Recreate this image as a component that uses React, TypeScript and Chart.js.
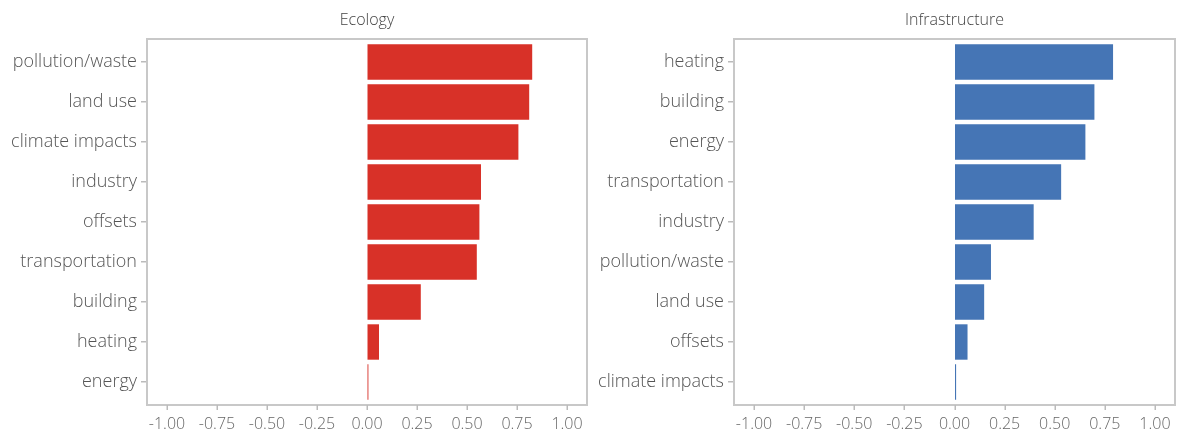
import React, { useEffect, useRef } from "react";
import { Chart, registerables } from "chart.js";

Chart.register(...registerables);

const ecologyCategories = [
  "pollution/waste",
  "land use",
  "climate impacts",
  "industry",
  "offsets",
  "transportation",
  "building",
  "heating",
  "energy",
];
const ecologyValues = [0.826, 0.811, 0.757, 0.57, 0.562, 0.549, 0.269, 0.06, 0.007];

const infraCategories = [
  "heating",
  "building",
  "energy",
  "transportation",
  "industry",
  "pollution/waste",
  "land use",
  "offsets",
  "climate impacts",
];
const infraValues = [0.791, 0.698, 0.653, 0.532, 0.395, 0.182, 0.148, 0.065, 0.008];

const xTickValues = [-1, -0.75, -0.5, -0.25, 0, 0.25, 0.5, 0.75, 1];

const FONT = "'Open Sans', Lato, sans-serif";
const INSET = 3;

type PanelProps = {
  title: string;
  categories: string[];
  values: number[];
  color: string;
  yWidth: number;
  padRight: number;
};

const frameTitlePlugin = {
  id: "frameTitle",
  afterDraw(chart: any, _args: any, opts: any) {
    const { ctx, chartArea } = chart;
    const xScale = chart.scales.x;
    ctx.save();
    ctx.strokeStyle = "#c8c8c8";
    ctx.lineWidth = 2;
    const top = chartArea.top - INSET;
    const bottom = chartArea.bottom + INSET;
    ctx.strokeRect(chartArea.left, top, chartArea.right - chartArea.left, bottom - top);
    ctx.strokeStyle = "#bbb";
    ctx.lineWidth = 1.5;
    ctx.beginPath();
    for (const v of xTickValues) {
      const x = Math.round(xScale.getPixelForValue(v)) + 0.25;
      ctx.moveTo(x, bottom);
      ctx.lineTo(x, bottom + 5);
    }
    ctx.stroke();
    ctx.fillStyle = "#444";
    ctx.font = `300 16px ${FONT}`;
    ctx.textAlign = "center";
    ctx.textBaseline = "middle";
    ctx.fillText(opts.text, (chartArea.left + chartArea.right) / 2, 20);
    ctx.restore();
  },
};

function Panel(p: PanelProps) {
  const ref = useRef<HTMLCanvasElement | null>(null);
  useEffect(() => {
    if (!ref.current) return;
    const chart = new Chart(ref.current, {
      type: "bar",
      data: {
        labels: p.categories,
        datasets: [
          {
            data: p.values,
            backgroundColor: p.color,
            borderWidth: 0,
            barPercentage: 0.885,
            categoryPercentage: 1,
          },
        ],
      },
      options: {
        indexAxis: "y",
        animation: false,
        responsive: false,
        maintainAspectRatio: false,
        layout: { padding: { top: 39 + INSET, right: p.padRight, left: 0, bottom: 0 } },
        plugins: {
          legend: { display: false },
          tooltip: { enabled: false },
          title: { display: false },
          frameTitle: { text: p.title },
        } as any,
        scales: {
          x: {
            type: "linear",
            min: -1.1,
            max: 1.1,
            afterBuildTicks: (scale: any) => {
              scale.ticks = xTickValues.map((v) => ({ value: v }));
            },
            afterFit: (scale: any) => {
              scale.height = 33 + INSET;
              scale.paddingLeft = 0;
              scale.paddingRight = 0;
            },
            ticks: {
              color: "#666",
              font: { family: FONT, size: 16, weight: "300" as any },
              padding: 13,
              maxRotation: 0,
              callback: (v: any) => Number(v).toFixed(2),
            },
            grid: {
              display: true,
              drawOnChartArea: false,
              drawTicks: false,
              color: "rgba(0,0,0,0)",
            },
            border: { display: false },
          },
          y: {
            type: "category",
            afterFit: (scale: any) => {
              scale.width = p.yWidth;
              scale.paddingTop = 0;
              scale.paddingBottom = 0;
            },
            ticks: {
              color: "#555",
              font: { family: FONT, size: 18, weight: "300" as any },
              padding: 4,
            },
            grid: {
              offset: false,
              drawOnChartArea: false,
              drawTicks: true,
              tickLength: 6,
              color: "#bbb",
              lineWidth: 1.5,
            },
            border: { display: false },
          },
        },
      },
      plugins: [frameTitlePlugin],
    });
    return () => chart.destroy();
  }, []);
  return <canvas ref={ref} width={590} height={438} style={{ width: 590, height: 438, display: "block" }} />;
}

export default function App() {
  useEffect(() => {
    document.body.style.margin = "0";
  }, []);
  return (
    <div style={{ display: "flex", width: 1180, height: 438, background: "#fff" }}>
      <Panel
        title="Ecology"
        categories={ecologyCategories}
        values={ecologyValues}
        color="#d83128"
        yWidth={147}
        padRight={3}
      />
      <Panel
        title="Infrastructure"
        categories={infraCategories}
        values={infraValues}
        color="#4575b5"
        yWidth={144}
        padRight={5}
      />
    </div>
  );
}
